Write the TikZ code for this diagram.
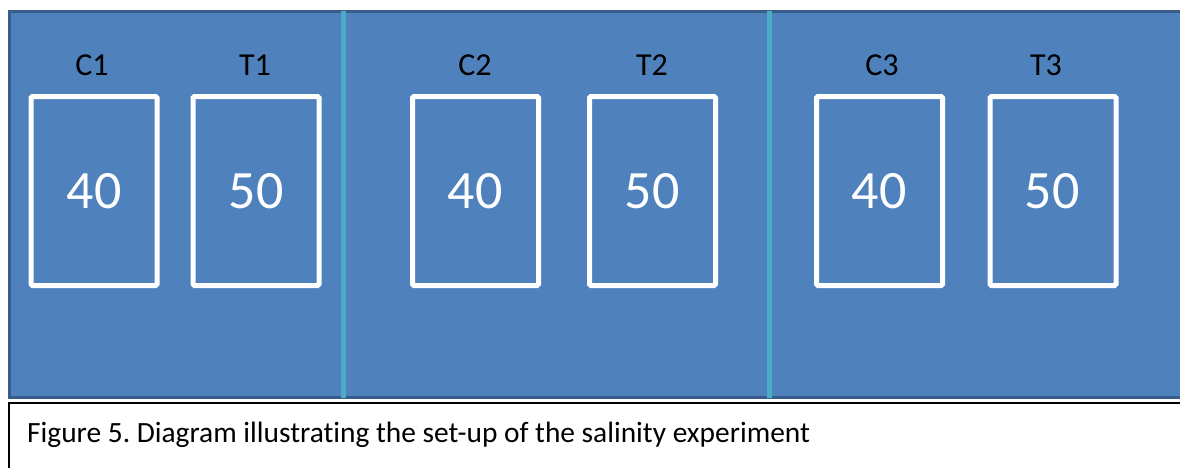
\documentclass[tikz,border=0pt]{standalone}
\usepackage{fontspec}
\setmainfont{Carlito}[Ligatures=NoCommon]
\frenchspacing
\definecolor{tankfill}{HTML}{4F81BD}
\definecolor{tankedge}{HTML}{385D8A}
\definecolor{divider}{HTML}{4BACC6}
\begin{document}
\begin{tikzpicture}[x=1pt,y=-1pt,
  tray/.style={draw=white,line width=5pt,rounded corners=1.5pt,minimum width=126pt,minimum height=189pt,inner sep=0pt},
  num/.style={anchor=base,font=\fontsize{54}{58}\selectfont,text=white,inner sep=0pt},
  lab/.style={anchor=base,font=\fontsize{32}{34}\selectfont,text=black,inner sep=0pt},
  wall/.style={draw=divider,line width=5pt}]
\useasboundingbox (0,0) rectangle (1180,467);
\fill[white] (0,0) rectangle (1180,467);
% tank
\filldraw[fill=tankfill,draw=tankedge,line width=3pt] (9.5,11.5) rectangle (1195,397.5);
% caption box
\draw[black,line width=2pt] (1195,402.5) -- (9,402.5) -- (9,480);
\node[anchor=base west,font=\fontsize{29.4}{32}\selectfont,inner sep=0pt] (cap) at (27,442) {Figure 5. Diagram illustrating the set-up of the salinity experiment};
% dividers
\coordinate (d1t) at (343,11); \coordinate (d1b) at (343,398);
\coordinate (d2t) at (769,11); \coordinate (d2b) at (769,398);
\draw[wall] (d1t) -- (d1b);
\draw[wall] (d2t) -- (d2b);
% trays
\node[tray] (c1) at (94,191) {};
\node[tray] (t1) at (256,191) {};
\node[tray] (c2) at (475.5,191) {};
\node[tray] (t2) at (652.5,191) {};
\node[tray] (c3) at (879.5,191) {};
\node[tray] (t3) at (1053,191) {};
\node[num] (n1) at (94,208) {40};
\node[num] (n2) at (256,208) {50};
\node[num] (n3) at (475,208) {40};
\node[num] (n4) at (652,208) {50};
\node[num] (n5) at (879,208) {40};
\node[num] (n6) at (1052,208) {50};
% labels
\node[lab] (lc1) at (92,75) {C1};
\node[lab] (lt1) at (255,75) {T1};
\node[lab] (lc2) at (475,75) {C2};
\node[lab] (lt2) at (652,75) {T2};
\node[lab] (lc3) at (882,75) {C3};
\node[lab] (lt3) at (1046,75) {T3};
\end{tikzpicture}
\end{document}
